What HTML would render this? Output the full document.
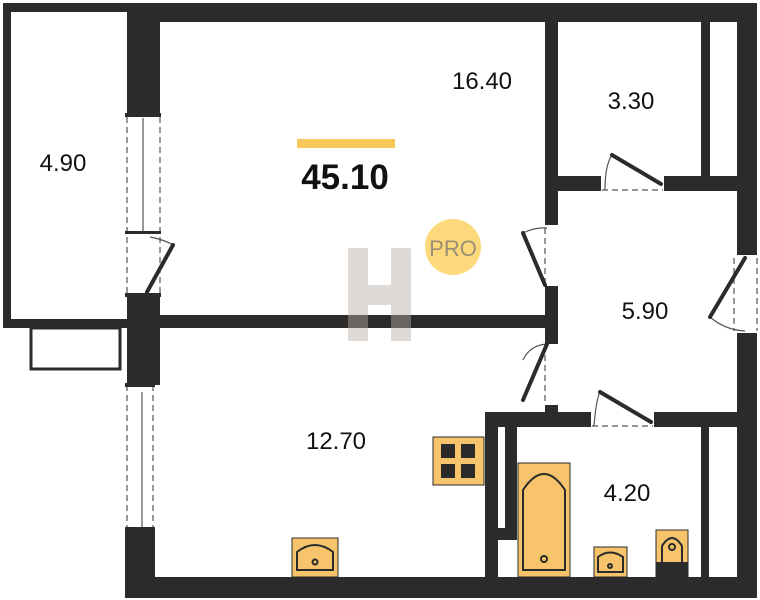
<!DOCTYPE html>
<html><head><meta charset="utf-8"><style>
html,body{margin:0;padding:0;background:#fff;width:760px;height:600px;overflow:hidden}
svg{display:block}
text{font-family:"Liberation Sans","DejaVu Sans",sans-serif}
</style></head><body>
<svg width="760" height="600" viewBox="0 0 760 600" xmlns="http://www.w3.org/2000/svg">
<g fill="#2b2b2b">
<rect x="3" y="3" width="124" height="9"/>
<rect x="3" y="3" width="8" height="325"/>
<rect x="3" y="319" width="124" height="9"/>
<rect x="127" y="3" width="630" height="19"/>
<rect x="127" y="3" width="33" height="112"/>
<rect x="127" y="295" width="33" height="90"/>
<rect x="125" y="530" width="30" height="68"/>
<rect x="125" y="577" width="632" height="21"/>
<rect x="737" y="3" width="20" height="252"/>
<rect x="737" y="333" width="20" height="265"/>
<rect x="127" y="315" width="430" height="13"/>
<rect x="545" y="22" width="13" height="203"/>
<rect x="545" y="286" width="13" height="58"/>
<rect x="545" y="405" width="13" height="10"/>
<rect x="558" y="176" width="43" height="15"/>
<rect x="664" y="176" width="73" height="15"/>
<rect x="701" y="22" width="9" height="155"/>
<rect x="485" y="412" width="106" height="15"/>
<rect x="654" y="412" width="83" height="15"/>
<rect x="485" y="412" width="13" height="166"/>
<rect x="505" y="427" width="12" height="113"/>
<rect x="498" y="528" width="19" height="12"/>
<rect x="701" y="427" width="8" height="150"/>
</g>
<g stroke="#555" stroke-width="1.2" fill="none">
<line x1="127" y1="117" x2="127" y2="293" stroke-dasharray="6,4"/>
<line x1="160" y1="117" x2="160" y2="293" stroke-dasharray="6,4"/>
<line x1="143" y1="118" x2="143" y2="232"/>
<line x1="127" y1="385" x2="127" y2="530" stroke-dasharray="6,4"/>
<line x1="153" y1="385" x2="153" y2="530" stroke-dasharray="6,4"/>
<line x1="142" y1="392" x2="142" y2="528"/>
<line x1="545" y1="228" x2="545" y2="285" stroke-dasharray="6,4"/>
<line x1="545" y1="345" x2="545" y2="404" stroke-dasharray="6,4"/>
<line x1="602" y1="190" x2="663" y2="190" stroke-dasharray="6,4"/>
<line x1="592" y1="426" x2="653" y2="426" stroke-dasharray="6,4"/>
<line x1="757" y1="258" x2="757" y2="331" stroke-dasharray="6,4"/>
<line x1="734" y1="258" x2="734" y2="331" stroke-dasharray="6,4"/>
<path d="M150 237 Q165 240 173 245"/>
<path d="M523 233 Q535 227 547 228"/>
<path d="M605 190 Q605 165 612 155"/>
<path d="M594 426 Q596 400 600 392"/>
<path d="M710 317 Q725 330 745 331"/>
<path d="M523 360 Q530 345 547 344"/>
</g>
<g fill="#2b2b2b">
<rect x="125" y="113" width="36" height="4"/>
<rect x="125" y="231" width="36" height="3"/>
<rect x="125" y="293" width="36" height="4"/>
<rect x="125" y="383" width="30" height="4"/>
<rect x="125" y="527" width="30" height="4"/>
</g>
<g stroke="#2b2b2b" stroke-width="4" stroke-linecap="round">
<line x1="173" y1="245" x2="147" y2="292"/>
<line x1="523" y1="233" x2="545" y2="285"/>
<line x1="612" y1="155" x2="661" y2="184"/>
<line x1="600" y1="392" x2="651" y2="422"/>
<line x1="710" y1="317" x2="745" y2="258"/>
<line x1="523" y1="400" x2="547" y2="344"/>
</g>
<rect x="31" y="328" width="89" height="41" fill="none" stroke="#2b2b2b" stroke-width="3"/>
<g fill="#b8ada3" opacity="0.45">
<rect x="348" y="248" width="20" height="93"/>
<rect x="391" y="248" width="20" height="93"/>
<rect x="368" y="285" width="23" height="20"/>
</g>
<rect x="297" y="139" width="98" height="9" fill="#f9c85a"/>
<text x="345" y="189" font-size="35" font-weight="bold" text-anchor="middle" fill="#111">45.10</text>
<circle cx="453" cy="247" r="28" fill="#fcd97a"/>
<text x="453" y="256" font-size="22" text-anchor="middle" fill="#9a8f76">PRO</text>
<g font-size="24" fill="#111" text-anchor="middle">
<text x="63" y="171">4.90</text>
<text x="482" y="89">16.40</text>
<text x="631" y="109">3.30</text>
<text x="645" y="319">5.90</text>
<text x="336" y="449">12.70</text>
<text x="627" y="501">4.20</text>
</g>
<g fill="#f7c46c" stroke="#2b2b2b" stroke-width="1">
<rect x="433" y="437" width="51" height="48"/>
<rect x="292" y="538" width="46" height="39"/>
<rect x="518" y="463" width="52" height="114"/>
<rect x="594" y="547" width="33" height="30"/>
<rect x="656" y="530" width="32" height="47"/>
</g>
<g fill="#2b2b2b">
<rect x="441" y="444" width="14" height="14"/><rect x="461" y="444" width="14" height="14"/>
<rect x="441" y="464" width="14" height="14"/><rect x="461" y="464" width="14" height="14"/>
<rect x="656" y="562" width="32" height="15"/>
</g>
<g fill="none" stroke="#2b2b2b" stroke-width="2">
<path d="M297 570 V552 Q315 538 333 552 V570 Z"/>
<circle cx="315" cy="562" r="2.5"/>
<path d="M523 570 V490 Q544 458 565 490 V570 Z"/>
<circle cx="544" cy="559" r="3"/>
<path d="M598 572 V557 Q610 548 623 557 V572 Z"/>
<circle cx="610" cy="566" r="2"/>
<path d="M662 562 V546 Q672 530 682 546 V562"/>
<circle cx="672" cy="547" r="3"/>
</g>
</svg>
</body></html>
